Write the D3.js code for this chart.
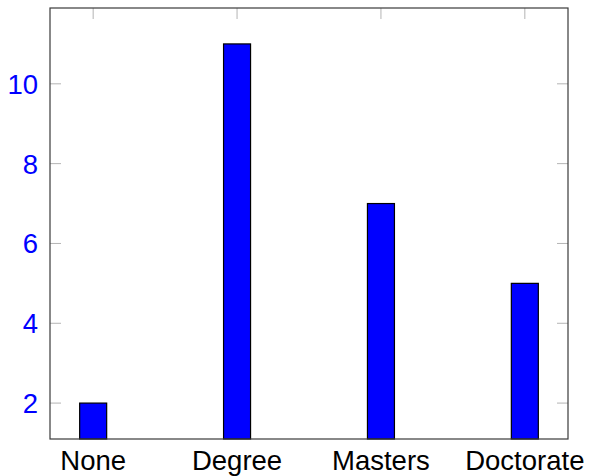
<!DOCTYPE html>
<html>
<head>
<meta charset="utf-8">
<script src="https://cdn.jsdelivr.net/npm/d3@7"></script>
<style>
  body { margin: 0; background: #fff; }
  text { font-family: "Liberation Sans", Arial, sans-serif; }
</style>
</head>
<body>
<svg id="chart" width="591" height="476"></svg>
<script>
let categories = ["None", "Degree", "Masters", "Doctorate"];
let counts = [2, 11, 7, 5];
let yTicks = [2, 4, 6, 8, 10];

function getChartConfig() {
    let margin = { top: 8, right: 23, bottom: 37, left: 50 },
        width = 591 - margin.left - margin.right,
        height = 476 - margin.top - margin.bottom;
    let container = d3.select("#chart")
        .append("g")
        .attr("transform", "translate(" + margin.left + "," + margin.top + ")");
    return { width, height, container, margin };
}

function getScales(config) {
    let { width, height } = config;
    // pgfplots-like enlarged limits
    let xScale = d3.scaleLinear().domain([-0.3, 3.3]).range([0, width]);
    let yScale = d3.scaleLinear().domain([1.1, 11.9]).range([height, 0]);
    return { xScale, yScale };
}

function drawBars(config, scales) {
    let { container, height } = config;
    let { xScale, yScale } = scales;
    let barW = 27;
    container.selectAll(".bar")
        .data(counts)
        .enter()
        .append("rect")
        .attr("class", "bar")
        .attr("x", (d, i) => xScale(i) - barW / 2)
        .attr("y", d => yScale(d))
        .attr("width", barW)
        .attr("height", d => height - yScale(d))
        .attr("fill", "#0000ff")
        .attr("stroke", "#000")
        .attr("stroke-width", 1.2);
}

function drawAxes(config, scales) {
    let { container, width, height } = config;
    let { xScale, yScale } = scales;
    let tickLen = 11;
    let idx = categories.map((d, i) => i);

    // inner ticks
    let tickColor = "#b4b4b4";
    container.selectAll(".ytl").data(yTicks).enter().append("line")
        .attr("x1", 0).attr("x2", tickLen)
        .attr("y1", d => yScale(d)).attr("y2", d => yScale(d))
        .style("stroke", tickColor);
    container.selectAll(".ytr").data(yTicks).enter().append("line")
        .attr("x1", width - tickLen).attr("x2", width)
        .attr("y1", d => yScale(d)).attr("y2", d => yScale(d))
        .style("stroke", tickColor);
    container.selectAll(".xtt").data(idx).enter().append("line")
        .attr("x1", d => xScale(d)).attr("x2", d => xScale(d))
        .attr("y1", 0).attr("y2", tickLen)
        .style("stroke", tickColor);

    // frame
    container.append("rect")
        .attr("x", 0).attr("y", 0)
        .attr("width", width).attr("height", height)
        .attr("fill", "none")
        .attr("stroke", "#3a3a3a")
        .attr("stroke-width", 1.2);

    // y labels
    container.selectAll(".ylab").data(yTicks).enter().append("text")
        .attr("x", -12)
        .attr("y", d => yScale(d))
        .attr("dy", "0.36em")
        .attr("text-anchor", "end")
        .style("font-size", "27.5px")
        .style("fill", "#0000ff")
        .text(d => d);

    // x labels
    container.selectAll(".xlab").data(categories).enter().append("text")
        .attr("x", (d, i) => xScale(i))
        .attr("y", height + 31)
        .attr("text-anchor", "middle")
        .style("font-size", "27.5px")
        .style("fill", "#000")
        .text(d => d);
}

function drawChart() {
    let config = getChartConfig();
    let scales = getScales(config);
    drawBars(config, scales);
    drawAxes(config, scales);
}

drawChart();
</script>
</body>
</html>
